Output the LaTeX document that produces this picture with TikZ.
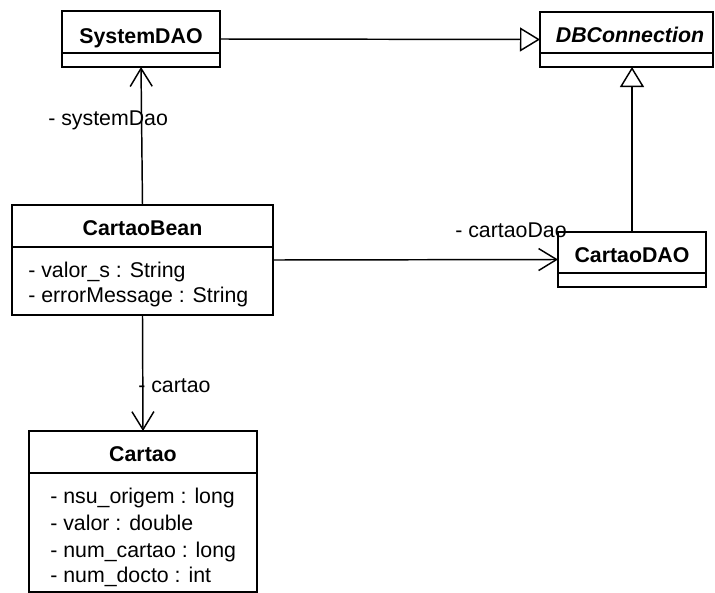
\documentclass[tikz,border=0pt]{standalone}
\usepackage{fontspec}
\setmainfont{Liberation Sans}
\usetikzlibrary{arrows.meta}
\begin{document}
\begin{tikzpicture}[x=0.75pt,y=-0.75pt,
  classbox/.style={draw=black,line width=1.9pt,fill=white,inner sep=0pt,outer sep=0pt,anchor=north west},
  divider/.style={line width=0.9pt},
  title/.style={font=\fontsize{16}{19}\selectfont\bfseries,anchor=base,inner sep=0pt},
  attr/.style={font=\fontsize{16}{19}\selectfont,anchor=base west,inner sep=0pt},
  role/.style={font=\fontsize{16}{19}\selectfont,anchor=base west,inner sep=0pt},
  assoc/.style={line width=1.1pt,-{Straight Barb[length=13.5pt,width=16.5pt,line width=1.1pt]}},
  inherit/.style={line width=1.1pt,-{Triangle[open,length=15pt,width=18pt,line width=1.1pt,fill=white]}}]
\useasboundingbox (0,0) rectangle (715,593);
\fill[white] (0,0) rectangle (715,593);

% class boxes
\node[classbox,minimum width=118.5pt,minimum height=42pt] (sys) at (62,11) {};
\node[classbox,minimum width=129.75pt,minimum height=41.25pt] (db) at (540,12) {};
\node[classbox,minimum width=195.75pt,minimum height=82.5pt] (bean) at (12,205) {};
\node[classbox,minimum width=111pt,minimum height=41.25pt] (dao) at (558,232) {};
\node[classbox,minimum width=171pt,minimum height=120.75pt] (card) at (29,431) {};

% compartment dividers
\draw[divider] (sys.west |- 0,53) -- (sys.east |- 0,53);
\draw[divider] (db.west |- 0,53) -- (db.east |- 0,53);
\draw[divider] (bean.west |- 0,247) -- (bean.east |- 0,247);
\draw[divider] (dao.west |- 0,273) -- (dao.east |- 0,273);
\draw[divider] (card.west |- 0,473) -- (card.east |- 0,473);

% class names
\node[title] (sysname) at (141,43) {SystemDAO};
\node[title,font=\fontsize{16}{19}\selectfont\bfseries\itshape] (dbname) at (630,42) {DBConnection};
\node[title] (beanname) at (142.5,235) {CartaoBean};
\node[title] (daoname) at (632,262) {CartaoDAO};
\node[title] (cardname) at (143,461) {Cartao};

% attributes
\node[attr] (b1) at (28,277) {- valor\_s : String};
\node[attr] (b2) at (28,302) {- errorMessage : String};
\node[attr] (c1) at (50,503) {- nsu\_origem : long};
\node[attr] (c2) at (50,530) {- valor : double};
\node[attr] (c3) at (50,557) {- num\_cartao : long};
\node[attr] (c4) at (50,582) {- num\_docto : int};

% generalizations
\draw[inherit] (sys.east) -- (db.west);
\draw[inherit] (dao.north) -- (dao.north |- db.south);

% associations
\draw[assoc] (bean.north) -- (sys.south);
\draw[assoc] (bean.east) -- (dao.west);
\draw[assoc] (bean.south) -- (card.north);

% role names
\node[role] (r1) at (48,125) {- systemDao};
\node[role] (r2) at (455,237) {- cartaoDao};
\node[role] (r3) at (138,392) {- cartao};
\end{tikzpicture}
\end{document}
